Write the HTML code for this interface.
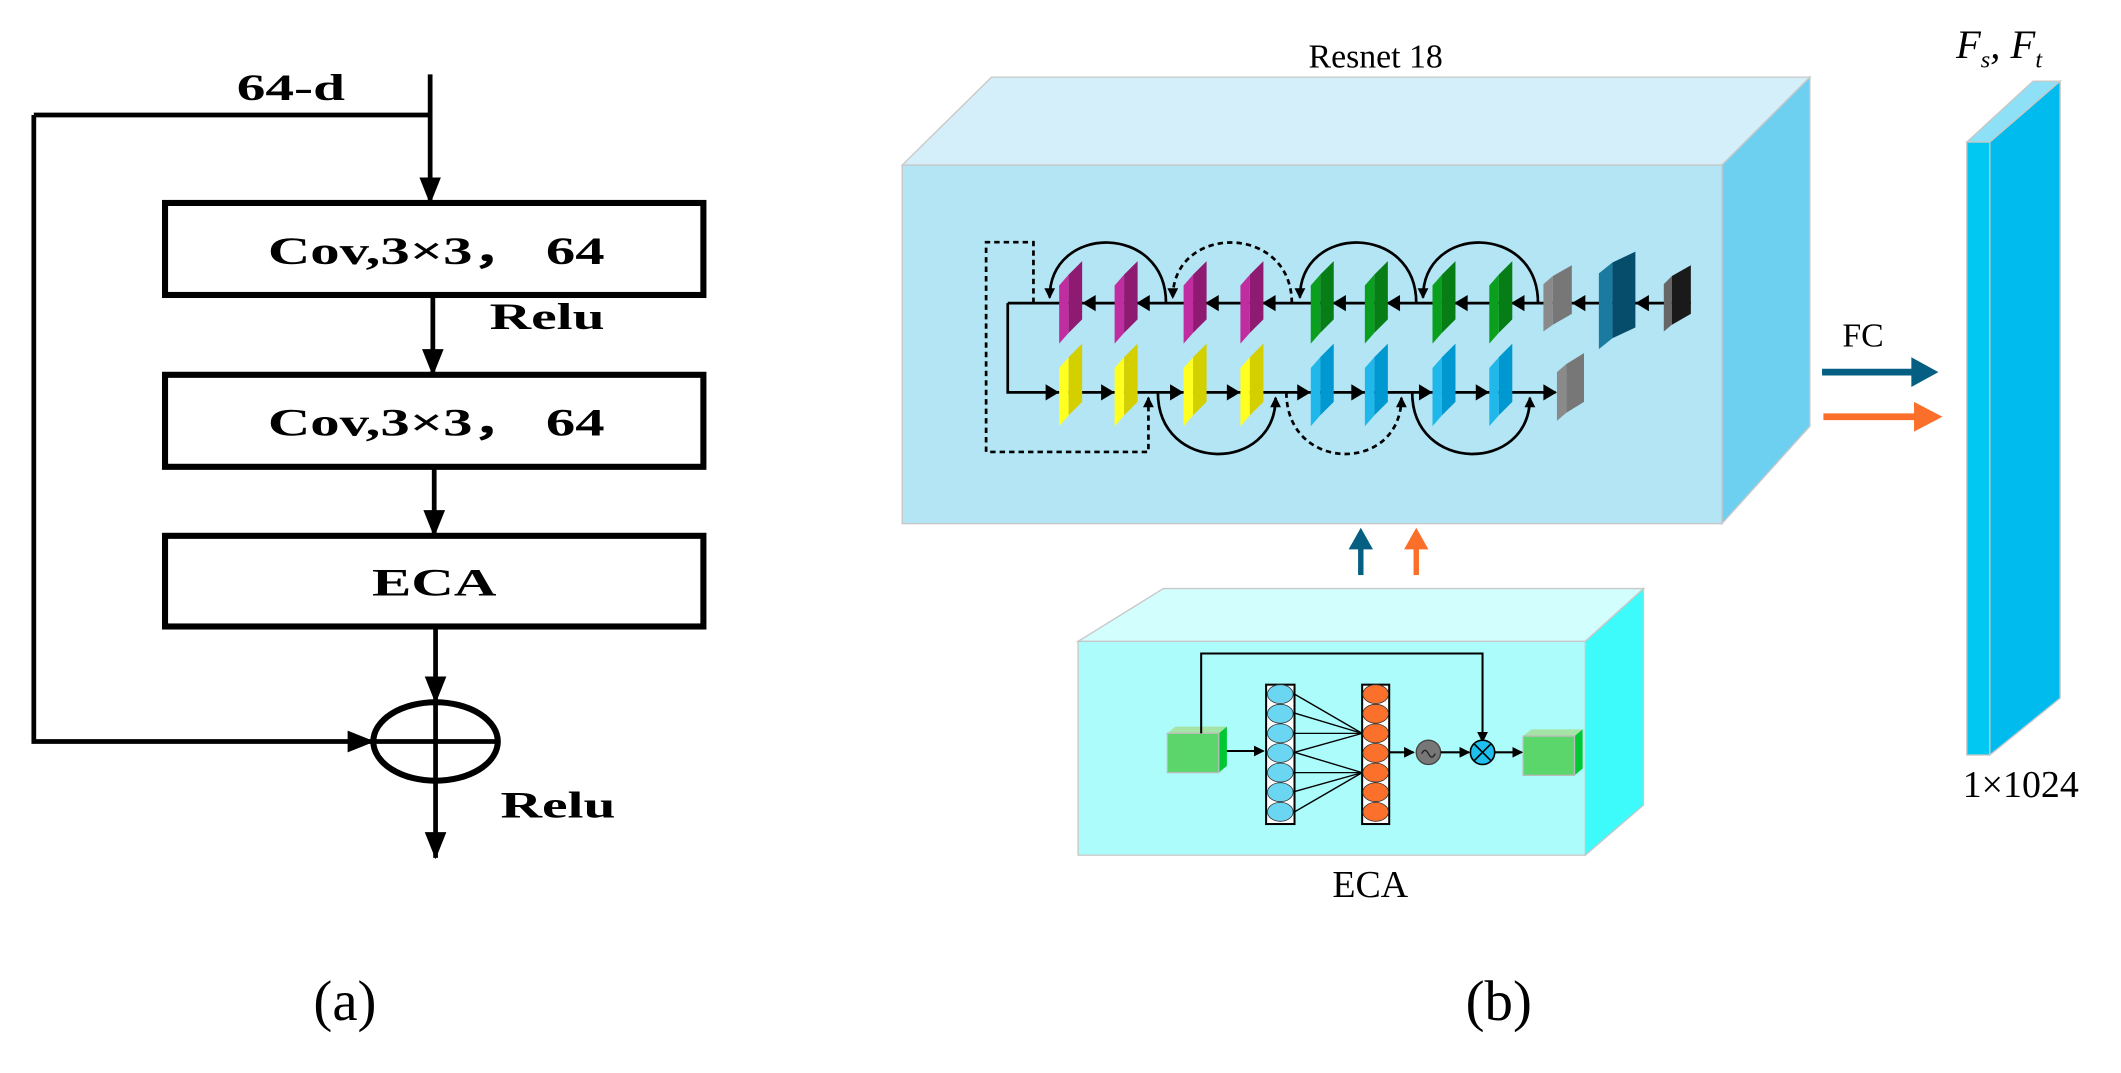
<!DOCTYPE html>
<html><head><meta charset="utf-8"><style>
html,body{margin:0;padding:0;background:#fff;width:2121px;height:1073px;overflow:hidden}
svg{display:block}
</style></head><body>
<svg width="2121" height="1073" viewBox="0 0 1568 793" preserveAspectRatio="none" xmlns="http://www.w3.org/2000/svg" font-family="'Liberation Serif',serif">
<defs>
<marker id="as" markerWidth="8" markerHeight="8" refX="7" refY="4" orient="auto" markerUnits="userSpaceOnUse"><path d="M0,0 L8,4 L0,8 z" fill="#000"/></marker>
<marker id="aB" markerWidth="20" markerHeight="16" refX="19" refY="8" orient="auto" markerUnits="userSpaceOnUse"><path d="M0,0 L20,8 L0,16 z" fill="#000"/></marker>
</defs>
<g stroke="#000" stroke-width="3.5" fill="none">
<polyline points="25,85 318,85"/>
<line x1="318" y1="55" x2="318" y2="150" marker-end="url(#aB)"/>
<polyline points="25,85 25,548 276,548" marker-end="url(#aB)"/>
<rect x="122" y="150" width="398" height="68" stroke-width="4.5"/>
<line x1="320" y1="218" x2="320" y2="277" marker-end="url(#aB)"/>
<rect x="122" y="277" width="398" height="68" stroke-width="4.5"/>
<line x1="321" y1="345" x2="321" y2="396" marker-end="url(#aB)"/>
<rect x="122" y="396" width="398" height="67" stroke-width="4.5"/>
<line x1="322" y1="463" x2="322" y2="519" marker-end="url(#aB)"/>
<ellipse cx="322" cy="548" rx="46" ry="29" stroke-width="4.5"/>
<line x1="276" y1="548" x2="368" y2="548"/>
<line x1="322" y1="519" x2="322" y2="634" marker-end="url(#aB)"/>
</g>
<g font-weight="bold" font-size="27" fill="#000">
<text x="175" y="74" textLength="80" lengthAdjust="spacingAndGlyphs">64-d</text>
<text x="198" y="195" textLength="249" lengthAdjust="spacingAndGlyphs" font-size="29">Cov,3×3，  64</text>
<text x="362" y="243" textLength="85" lengthAdjust="spacingAndGlyphs">Relu</text>
<text x="198" y="322" textLength="249" lengthAdjust="spacingAndGlyphs" font-size="29">Cov,3×3，  64</text>
<text x="275" y="440" textLength="92" lengthAdjust="spacingAndGlyphs" font-size="29">ECA</text>
<text x="370" y="604" textLength="85" lengthAdjust="spacingAndGlyphs">Relu</text>
</g>
<text x="255" y="754" text-anchor="middle" font-size="42">(a)</text>
<polygon points="667,122 733,57 1338,57 1273,122" fill="#d4eff9" stroke="#c8c8c8"/>
<polygon points="1273,122 1338,57 1338,315 1273,387" fill="#6dd0f0" stroke="#c8c8c8"/>
<rect x="667" y="122" width="606" height="265" fill="#b3e5f5" stroke="#c8c8c8"/>
<text x="1017" y="50" text-anchor="middle" font-size="25">Resnet 18</text>
<g stroke="#000" stroke-width="2" fill="none">
<line x1="1250" y1="224" x2="745" y2="224"/>
<polyline points="745,224 745,290 1150,290"/>
<path d="M862,224 C862,165 776,165 776,220" marker-end="url(#as)"/>
<path d="M955,224 C955,165 867,165 867,220" stroke-dasharray="4,3" marker-end="url(#as)"/>
<path d="M1047,224 C1047,165 961,165 961,220" marker-end="url(#as)"/>
<path d="M1137,224 C1137,165 1052,165 1052,220" marker-end="url(#as)"/>
<polyline points="764,224 764,179 729,179 729,334 849,334 849,294" stroke-dasharray="4,3" marker-end="url(#as)"/>
<path d="M856,290 C856,350 943,350 943,294" marker-end="url(#as)"/>
<path d="M951,290 C951,350 1036,350 1036,294" stroke-dasharray="4,3" marker-end="url(#as)"/>
<path d="M1044,290 C1044,350 1131,350 1131,294" marker-end="url(#as)"/>
</g>
<g fill="#000">
<path d="M800,224 l10,-6 v12z"/><path d="M840,224 l10,-6 v12z"/><path d="M891,224 l10,-6 v12z"/><path d="M933,224 l10,-6 v12z"/>
<path d="M985,224 l10,-6 v12z"/><path d="M1025,224 l10,-6 v12z"/><path d="M1075,224 l10,-6 v12z"/><path d="M1117,224 l10,-6 v12z"/>
<path d="M1162,224 l10,-6 v12z"/><path d="M1209,224 l10,-6 v12z"/>
<path d="M783,290 l-10,-6 v12z"/><path d="M824,290 l-10,-6 v12z"/><path d="M875,290 l-10,-6 v12z"/><path d="M917,290 l-10,-6 v12z"/>
<path d="M969,290 l-10,-6 v12z"/><path d="M1009,290 l-10,-6 v12z"/><path d="M1059,290 l-10,-6 v12z"/><path d="M1101,290 l-10,-6 v12z"/><path d="M1151,290 l-10,-6 v12z"/>
</g>
<g>
<g><polygon points="783,211 790,203 790,246 783,254" fill="#c02da0"/><polygon points="790,203 800,193 800,236 790,246" fill="#8e1a72"/></g>
<g><polygon points="824,211 831,203 831,246 824,254" fill="#c02da0"/><polygon points="831,203 841,193 841,236 831,246" fill="#8e1a72"/></g>
<g><polygon points="875,211 882,203 882,246 875,254" fill="#c02da0"/><polygon points="882,203 892,193 892,236 882,246" fill="#8e1a72"/></g>
<g><polygon points="917,211 924,203 924,246 917,254" fill="#c02da0"/><polygon points="924,203 934,193 934,236 924,246" fill="#8e1a72"/></g>
<g><polygon points="969,211 976,203 976,246 969,254" fill="#0aa01e"/><polygon points="976,203 986,193 986,236 976,246" fill="#077e15"/></g>
<g><polygon points="1009,211 1016,203 1016,246 1009,254" fill="#0aa01e"/><polygon points="1016,203 1026,193 1026,236 1016,246" fill="#077e15"/></g>
<g><polygon points="1059,211 1066,203 1066,246 1059,254" fill="#0aa01e"/><polygon points="1066,203 1076,193 1076,236 1066,246" fill="#077e15"/></g>
<g><polygon points="1101,211 1108,203 1108,246 1101,254" fill="#0aa01e"/><polygon points="1108,203 1118,193 1118,236 1108,246" fill="#077e15"/></g>
<polygon points="1141,210 1148,204 1148,240 1141,245" fill="#8a8a8a"/><polygon points="1148,204 1162,196 1162,232 1148,240" fill="#777"/>
<polygon points="1182,202 1192,194 1192,250 1182,258" fill="#1a7aa0"/><polygon points="1192,194 1209,186 1209,242 1192,250" fill="#064d6c"/>
<polygon points="1230,210 1236,204 1236,240 1230,245" fill="#666"/><polygon points="1236,204 1250,196 1250,232 1236,240" fill="#1a1a1a"/>
<g><polygon points="783,272 790,264 790,307 783,315" fill="#ffff20"/><polygon points="790,264 800,254 800,297 790,307" fill="#d4d000"/></g>
<g><polygon points="824,272 831,264 831,307 824,315" fill="#ffff20"/><polygon points="831,264 841,254 841,297 831,307" fill="#d4d000"/></g>
<g><polygon points="875,272 882,264 882,307 875,315" fill="#ffff20"/><polygon points="882,264 892,254 892,297 882,307" fill="#d4d000"/></g>
<g><polygon points="917,272 924,264 924,307 917,315" fill="#ffff20"/><polygon points="924,264 934,254 934,297 924,307" fill="#d4d000"/></g>
<g><polygon points="969,272 976,264 976,307 969,315" fill="#20b8ea"/><polygon points="976,264 986,254 986,297 976,307" fill="#0098d0"/></g>
<g><polygon points="1009,272 1016,264 1016,307 1009,315" fill="#20b8ea"/><polygon points="1016,264 1026,254 1026,297 1016,307" fill="#0098d0"/></g>
<g><polygon points="1059,272 1066,264 1066,307 1059,315" fill="#20b8ea"/><polygon points="1066,264 1076,254 1076,297 1066,307" fill="#0098d0"/></g>
<g><polygon points="1101,272 1108,264 1108,307 1101,315" fill="#20b8ea"/><polygon points="1108,264 1118,254 1118,297 1108,307" fill="#0098d0"/></g>
<polygon points="1151,275 1158,269 1158,305 1151,311" fill="#8a8a8a"/><polygon points="1158,269 1171,261 1171,297 1158,305" fill="#777"/>
</g>
<line x1="1347" y1="275" x2="1415" y2="275" stroke="#045f82" stroke-width="5"/><path d="M1413,264 L1433,275 L1413,286z" fill="#045f82"/>
<line x1="1348" y1="308" x2="1417" y2="308" stroke="#fb6f2a" stroke-width="5"/><path d="M1415,297 L1436,308 L1415,319z" fill="#fb6f2a"/>
<text x="1362" y="256" font-size="25">FC</text>
<line x1="1006" y1="425" x2="1006" y2="405" stroke="#045f82" stroke-width="4"/><path d="M997,406 L1006,390 L1015,406z" fill="#045f82"/>
<line x1="1047" y1="425" x2="1047" y2="405" stroke="#fb6f2a" stroke-width="4"/><path d="M1038,406 L1047,390 L1056,406z" fill="#fb6f2a"/>
<polygon points="797,474 860,435 1215,435 1172,474" fill="#d2fefe" stroke="#c8c8c8"/>
<polygon points="1172,474 1215,435 1215,595 1172,632" fill="#3efbfb" stroke="#c8c8c8"/>
<rect x="797" y="474" width="375" height="158" fill="#adfcfc" stroke="#c8c8c8"/>
<text x="1013" y="663" text-anchor="middle" font-size="28">ECA</text>
<polygon points="863,542 869,537 907,537 901,542" fill="#a6e3a6"/>
<polygon points="901,542 907,537 907,566 901,571" fill="#00c832"/>
<rect x="863" y="542" width="38" height="29" fill="#5ad66a" stroke="#bbb"/>
<polygon points="1126,544 1132,539 1170,539 1164,544" fill="#a6e3a6"/>
<polygon points="1164,544 1170,539 1170,568 1164,573" fill="#00c832"/>
<rect x="1126" y="544" width="38" height="29" fill="#5ad66a" stroke="#bbb"/>
<polyline points="888,542 888,483 1096,483 1096,548" stroke="#000" stroke-width="1.5" fill="none" marker-end="url(#as)"/>
<line x1="907" y1="555" x2="934" y2="555" stroke="#000" stroke-width="1.5" marker-end="url(#as)"/>
<rect x="936" y="506" width="21" height="103" fill="#fff" stroke="#000" stroke-width="1.5"/>
<rect x="1007" y="506" width="20" height="103" fill="#fff" stroke="#000" stroke-width="1.5"/>
<g stroke="#333" stroke-width="0.6">
<ellipse cx="946.5" cy="513" rx="9.5" ry="7" fill="#6ad6f2"/><ellipse cx="946.5" cy="527.5" rx="9.5" ry="7" fill="#6ad6f2"/><ellipse cx="946.5" cy="542" rx="9.5" ry="7" fill="#6ad6f2"/><ellipse cx="946.5" cy="556.5" rx="9.5" ry="7" fill="#6ad6f2"/><ellipse cx="946.5" cy="571" rx="9.5" ry="7" fill="#6ad6f2"/><ellipse cx="946.5" cy="585.5" rx="9.5" ry="7" fill="#6ad6f2"/><ellipse cx="946.5" cy="600" rx="9.5" ry="7" fill="#6ad6f2"/>
<ellipse cx="1017" cy="513" rx="9.5" ry="7" fill="#fb702a"/><ellipse cx="1017" cy="527.5" rx="9.5" ry="7" fill="#fb702a"/><ellipse cx="1017" cy="542" rx="9.5" ry="7" fill="#fb702a"/><ellipse cx="1017" cy="556.5" rx="9.5" ry="7" fill="#fb702a"/><ellipse cx="1017" cy="571" rx="9.5" ry="7" fill="#fb702a"/><ellipse cx="1017" cy="585.5" rx="9.5" ry="7" fill="#fb702a"/><ellipse cx="1017" cy="600" rx="9.5" ry="7" fill="#fb702a"/>
</g>
<g stroke="#000" stroke-width="1">
<line x1="957" y1="513" x2="1007" y2="542"/><line x1="957" y1="527" x2="1007" y2="542"/><line x1="957" y1="542" x2="1007" y2="542"/><line x1="957" y1="556" x2="1007" y2="542"/>
<line x1="957" y1="556" x2="1007" y2="571"/><line x1="957" y1="571" x2="1007" y2="571"/><line x1="957" y1="585" x2="1007" y2="571"/><line x1="957" y1="600" x2="1007" y2="571"/>
</g>
<line x1="1027" y1="556" x2="1045" y2="556" stroke="#000" stroke-width="1.5" marker-end="url(#as)"/>
<circle cx="1056" cy="556" r="9" fill="#777" stroke="#444"/>
<path d="M1051,557 q2.5,-5 5,0 t5,0" stroke="#222" fill="none"/>
<line x1="1065" y1="556" x2="1086" y2="556" stroke="#000" stroke-width="1.5" marker-end="url(#as)"/>
<circle cx="1096" cy="556" r="9" fill="#1ec0ef" stroke="#000" stroke-width="1.2"/>
<path d="M1090,550 L1102,562 M1102,550 L1090,562" stroke="#000" stroke-width="1.2"/>
<line x1="1105" y1="556" x2="1125" y2="556" stroke="#000" stroke-width="1.5" marker-end="url(#as)"/>
<polygon points="1454,105 1503,60 1523,60 1471,105" fill="#8ee0f6" stroke="#c8c8c8"/>
<polygon points="1471,105 1523,60 1523,516 1471,558" fill="#00bbee" stroke="#c8c8c8"/>
<rect x="1454" y="105" width="17" height="453" fill="#00c8f2" stroke="#c8c8c8"/>
<text x="1446" y="43" font-size="30" font-style="italic">F<tspan font-size="18" dy="7">s</tspan><tspan dy="-7">, F</tspan><tspan font-size="18" dy="7">t</tspan></text>
<text x="1451" y="589" font-size="28">1×1024</text>
<text x="1108" y="754" text-anchor="middle" font-size="42">(b)</text>
</svg>
</body></html>
